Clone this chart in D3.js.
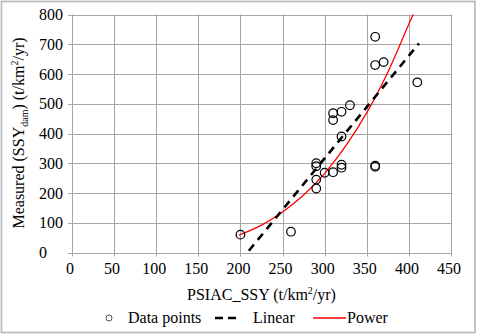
<!DOCTYPE html>
<html><head><meta charset="utf-8">
<script src="https://cdn.jsdelivr.net/npm/d3@7"></script>
<style>html,body{margin:0;padding:0;background:#fff;}svg{display:block;}
svg text{font-family:"Liberation Serif","Times New Roman",Times,"DejaVu Serif",serif;}</style>
</head><body>
<svg id="c" width="478" height="336"></svg>
<script>
const pointsX = [200, 260, 290, 290, 290, 290, 300, 310, 310, 310, 320, 320, 320, 320, 330, 360, 360, 360, 360, 370, 410];
const pointsY = [60, 70, 215, 245, 290, 300, 268, 270, 445, 468, 285, 295, 390, 473, 495, 288, 292, 630, 725, 640, 572];
const linearX = [210, 412];
const linearY = [6, 703];
const powerX = [198, 225, 250, 275, 300, 325, 350, 375, 400, 406];
const powerY = [58, 92, 136, 193, 266, 358, 470, 606, 768, 806];
const xTicks = [0, 50, 100, 150, 200, 250, 300, 350, 400, 450];
const yTicks = [0, 100, 200, 300, 400, 500, 600, 700, 800];

const svg = d3.select("#c");
const L = 72, R = 451, T = 14.5, B = 252.5;
const x = d3.scaleLinear().domain([0, 450]).range([L, R]);
const y = d3.scaleLinear().domain([0, 800]).range([B, T]);

svg.append("rect").attr("x", 1.5).attr("y", 1.5).attr("width", 473.5).attr("height", 331)
  .attr("fill", "#fff").attr("stroke", "#bdbdbd").attr("stroke-width", 1.8);

const defs = svg.append("defs");
defs.append("clipPath").attr("id", "clip").append("rect")
  .attr("x", L).attr("y", T).attr("width", R - L).attr("height", B - T);

// grid
const grid = svg.append("g").attr("stroke", "#a6a6a6").attr("stroke-width", 1);
xTicks.forEach(v => grid.append("line").attr("x1", Math.round(x(v)) + 0.5).attr("x2", Math.round(x(v)) + 0.5).attr("y1", T).attr("y2", B + 4));
yTicks.forEach(v => grid.append("line").attr("x1", L - 4).attr("x2", R).attr("y1", Math.round(y(v)) + 0.5).attr("y2", Math.round(y(v)) + 0.5));

// axes
const xa = svg.append("g").attr("transform", `translate(0,${B + 6})`)
  .call(d3.axisBottom(x).tickValues(xTicks).tickSize(0).tickPadding(4));
const ya = svg.append("g").attr("transform", `translate(${L - 7},0)`)
  .call(d3.axisLeft(y).tickValues(yTicks).tickSize(0).tickPadding(2));
[xa, ya].forEach(a => {
  a.select(".domain").remove();
  a.attr("font-family", null).attr("font-size", null);
  a.selectAll("text").attr("font-size", 16).attr("fill", "#000");
});
xa.selectAll("text").attr("dx", -2.5);
ya.selectAll("text").attr("text-anchor", "start").attr("x", 39 - (L - 7));

// power curve
const plot = svg.append("g").attr("clip-path", "url(#clip)");
plot.append("path")
  .datum(powerX.map((v, i) => [v, powerY[i]]))
  .attr("d", d3.line().x(d => x(d[0])).y(d => y(d[1])).curve(d3.curveCatmullRom))
  .attr("fill", "none").attr("stroke", "#ff0000").attr("stroke-width", 1.3);

// linear
plot.append("path")
  .datum(linearX.map((v, i) => [v, linearY[i]]))
  .attr("d", d3.line().x(d => x(d[0])).y(d => y(d[1])))
  .attr("fill", "none").attr("stroke", "#000").attr("stroke-width", 2.6)
  .attr("stroke-dasharray", "8,6");

// points
svg.append("g").selectAll("circle").data(pointsX.map((v, i) => [v, pointsY[i]]))
  .join("circle").attr("cx", d => x(d[0])).attr("cy", d => y(d[1])).attr("r", 4.3)
  .attr("fill", "none").attr("stroke", "#000").attr("stroke-width", 1.2);

// x title
const xt = svg.append("text").attr("x", (L + R) / 2).attr("y", 300).attr("text-anchor", "middle")
  .attr("font-size", 16).attr("fill", "#000");
xt.append("tspan").text("PSIAC_SSY (t/km");
xt.append("tspan").text("2").attr("font-size", 10).attr("dy", -6);
xt.append("tspan").text("/yr)").attr("dy", 6);

// y title
const yt = svg.append("text").attr("transform", `translate(24,133) rotate(-90)`).attr("text-anchor", "middle")
  .attr("font-size", 16).attr("fill", "#000");
yt.append("tspan").text("Measured (SSY");
yt.append("tspan").text("dam").attr("font-size", 10).attr("dy", 4);
yt.append("tspan").text(") (t/km").attr("dy", -4);
yt.append("tspan").text("2").attr("font-size", 10).attr("dy", -6);
yt.append("tspan").text("/yr)").attr("dy", 6);

// legend
const lg = svg.append("g");
lg.append("circle").attr("cx", 109).attr("cy", 318).attr("r", 3).attr("fill", "none").attr("stroke", "#555").attr("stroke-width", 1);
lg.append("text").attr("x", 128).attr("y", 323).text("Data points");
lg.append("line").attr("x1", 215).attr("x2", 241).attr("y1", 318).attr("y2", 318)
  .attr("stroke", "#000").attr("stroke-width", 2.6).attr("stroke-dasharray", "8,5");
lg.append("text").attr("x", 253).attr("y", 323).text("Linear");
lg.append("line").attr("x1", 313).attr("x2", 346).attr("y1", 318).attr("y2", 318)
  .attr("stroke", "#ff0000").attr("stroke-width", 1.3);
lg.append("text").attr("x", 347).attr("y", 323).text("Power");
lg.selectAll("text").attr("font-size", 16).attr("fill", "#000");
</script>
</body></html>
